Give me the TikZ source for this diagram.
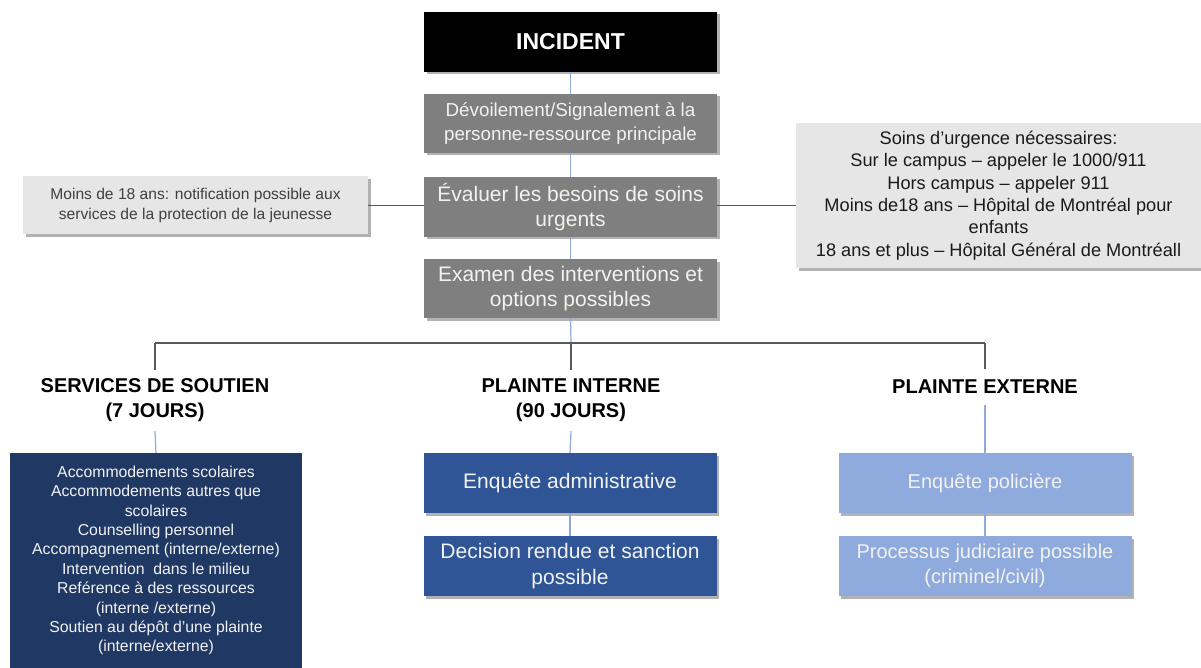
\documentclass[tikz,border=0pt]{standalone}
\usepackage{fontspec}
\setmainfont{Liberation Sans}
\usetikzlibrary{shadows}
\definecolor{boxgray}{HTML}{7F7F7F}
\definecolor{notegray}{HTML}{E6E6E6}
\definecolor{navy}{HTML}{203864}
\definecolor{midblue}{HTML}{2F5597}
\definecolor{lightblue}{HTML}{8FAADC}
\definecolor{linkblue}{HTML}{8EAADB}
\definecolor{linkgray}{HTML}{595959}
\definecolor{txtwhite}{HTML}{F2F2F2}
\tikzset{
  shad/.style={drop shadow={shadow xshift=2.5pt,shadow yshift=-2.5pt,fill=black,opacity=0.3}},
  basebox/.style={shad,inner sep=0pt,align=center,minimum width=293pt},
  topbox/.style={basebox,fill=black,text=white,font=\fontsize{23}{26}\selectfont\bfseries,minimum height=60pt},
  graybox/.style={basebox,fill=boxgray,text=txtwhite,minimum height=59pt},
  notebox/.style={shad,fill=notegray,inner sep=0pt,align=center},
  heading/.style={inner sep=0pt,align=center,font=\fontsize{20}{25}\selectfont\bfseries,text=black},
  navybox/.style={fill=navy,text=txtwhite,inner sep=0pt,align=center,font=\fontsize{15.8}{19.4}\selectfont},
  bluebox/.style={basebox,fill=midblue,text=txtwhite,minimum height=60pt,font=\fontsize{21}{26}\selectfont},
  lbluebox/.style={basebox,fill=lightblue,text=txtwhite,minimum height=60pt,font=\fontsize{20}{25}\selectfont},
  bl/.style={draw=linkblue,line width=1.2pt},
  gl/.style={draw=linkgray,line width=1.2pt},
}
\begin{document}
\begin{tikzpicture}[x=1pt,y=-1pt]
\useasboundingbox (0,0) rectangle (1201,668);
% top chain
\node[topbox] (incident) at (570.5,42) {INCIDENT};
\node[graybox,font=\fontsize{18.8}{24}\selectfont] (devoil) at (570.5,123.5) {Dévoilement/Signalement à la\\personne-ressource principale};
\node[graybox,minimum height=60pt,font=\fontsize{21}{25.5}\selectfont] (evaluer) at (570.5,207) {Évaluer les besoins de soins\\urgents};
\node[graybox,font=\fontsize{21}{25.5}\selectfont] (examen) at (570.5,288.5) {Examen des interventions et\\options possibles};
% side notes
\node[notebox,minimum width=345pt,minimum height=58pt,text={rgb,255:red,64;green,64;blue,64},font=\fontsize{15.6}{20}\selectfont] (left) at (195.5,205.5) {Moins de 18 ans: notification possible aux\\services de la protection de la jeunesse};
\node[notebox,minimum width=405pt,minimum height=145pt,text={rgb,255:red,26;green,26;blue,26},font=\fontsize{18.2}{22.4}\selectfont] (right) at (998.5,195.5) {Soins d’urgence nécessaires:\\Sur le campus – appeler le 1000/911\\Hors campus – appeler 911\\Moins de18 ans – Hôpital de Montréal pour\\enfants\\18 ans et plus – Hôpital Général de Montréall};
% junctions
\coordinate (jL) at (155,343);
\coordinate (jM) at (571,343);
\coordinate (jR) at (985,343);
% headings
\node[heading,minimum height=61pt] (soutien) at (155,400.5) {SERVICES DE SOUTIEN\\(7 JOURS)};
\node[heading,minimum height=61pt] (interne) at (571,400.5) {PLAINTE INTERNE\\(90 JOURS)};
\node[heading,minimum height=36pt] (externe) at (985,387) {PLAINTE EXTERNE};
% bottom boxes
\node[navybox,minimum width=292pt,minimum height=215pt] (navy) at (156,560.5) {Accommodements scolaires\\Accommodements autres que\\scolaires\\Counselling personnel\\Accompagnement (interne/externe)\\Intervention\ \ dans le milieu\\Reférence à des ressources\\(interne /externe)\\Soutien au dépôt d’une plainte\\(interne/externe)};
\node[bluebox] (admin) at (570,483) {Enquête administrative};
\node[bluebox] (decision) at (570,566) {Decision rendue et sanction\\possible};
\node[lbluebox] (police) at (985,483) {Enquête policière};
\node[lbluebox] (proces) at (985,566) {Processus judiciaire possible\\(criminel/civil)};
% connectors
\draw[bl] (incident.south) -- (devoil.north);
\draw[bl] (devoil.south) -- (evaluer.north);
\draw[bl] (evaluer.south) -- (examen.north);
\draw[gl] (evaluer.west |- left.east) -- (left.east);
\draw[gl] (evaluer.east |- left.east) -- (evaluer.east |- left.east -| right.west);
\draw[bl] (examen.south) -- (jM);
\draw[gl] (jL) -- (jR);
\draw[gl] (jL) -- (soutien.north);
\draw[gl] (jM) -- (interne.north);
\draw[gl] (jR) -- (externe.north);
\draw[bl] (soutien.south) -- (navy.north);
\draw[bl] (interne.south) -- (admin.north);
\draw[bl] (externe.south) -- (police.north);
\draw[bl] (admin.south) -- (decision.north);
\draw[bl] (police.south) -- (proces.north);
\end{tikzpicture}
\end{document}
